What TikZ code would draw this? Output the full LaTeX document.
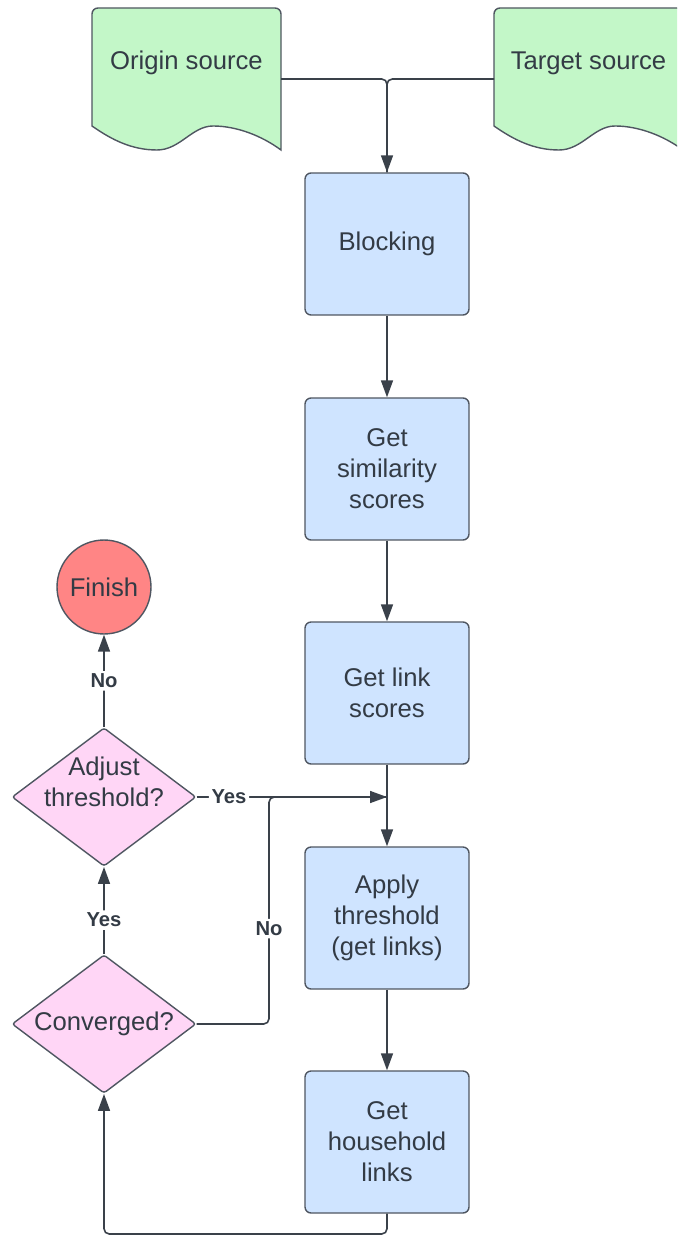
\documentclass[tikz,border=0pt]{standalone}
\usepackage{fontspec}
\setmainfont{Liberation Sans}
\usetikzlibrary{shapes.geometric, arrows.meta}
\definecolor{lineGray}{HTML}{3A414A}
\definecolor{borderGray}{HTML}{4F5661}
\definecolor{textGray}{HTML}{333B45}
\definecolor{docGreen}{HTML}{C3F7C8}
\definecolor{stepBlue}{HTML}{CFE4FF}
\definecolor{askPink}{HTML}{FFD6F6}
\definecolor{endRed}{HTML}{FF8585}
\begin{document}
\begin{tikzpicture}[x=0.02cm, y=-0.02cm,
    docStyle/.style={draw=borderGray, fill=docGreen, line width=0.8pt},
    textStyle/.style={text=textGray, align=center, font=\fontsize{14.6}{17.6}\selectfont},
    boxStyle/.style={textStyle, rectangle, draw=borderGray, fill=stepBlue, line width=0.8pt, rounded corners=3.4pt, minimum width=3.28cm, minimum height=2.84cm},
    decisionStyle/.style={textStyle, diamond, aspect=1.33, draw=borderGray, fill=askPink, line width=0.8pt, rounded corners=1.5pt, minimum width=3.68cm, minimum height=2.77cm, inner sep=0pt},
    endStyle/.style={textStyle, circle, draw=borderGray, fill=endRed, line width=0.8pt, minimum size=1.88cm},
    lineStyle/.style={draw=lineGray, line width=0.9pt, rounded corners=3pt},
    arrowStyle/.style={lineStyle, -{Triangle[length=0.34cm, width=0.24cm]}},
    labelStyle/.style={text=textGray, fill=white, inner sep=1.5pt, font=\fontsize{11.5}{13}\selectfont\bfseries}]
    \useasboundingbox (0,0) rectangle (677,1236);
    \clip (0,0) rectangle (677,1236);

    % sources
    \draw[docStyle, shift={(92,8)}] (189,60) [rounded corners=3.4pt] -- (189,0) -- (0,0) -- (0,60) [sharp corners] -- (0,118) .. controls (20,132) and (40,142) .. (65,142) .. controls (88,142) and (100,118) .. (121,118) .. controls (145,118) and (170,128) .. (189,142) -- cycle;
    \draw[docStyle, shift={(494,8)}] (189,60) [rounded corners=3.4pt] -- (189,0) -- (0,0) -- (0,60) [sharp corners] -- (0,118) .. controls (20,132) and (40,142) .. (65,142) .. controls (88,142) and (100,118) .. (121,118) .. controls (145,118) and (170,128) .. (189,142) -- cycle;
    \node[textStyle] (origin) at (186.5,63) {Origin source};
    \node[textStyle] (target) at (588.5,63) {Target source};
    \coordinate (origin_E) at (281,79);
    \coordinate (target_W) at (494,79);

    % steps
    \node[boxStyle] (blocking)   at (387, 244) {Blocking};
    \node[boxStyle] (simScores)  at (387, 469) {Get\\similarity\\scores};
    \node[boxStyle] (linkScores) at (387, 693) {Get link\\scores};
    \node[boxStyle] (applyThr)   at (387, 918) {Apply\\threshold\\(get links)};
    \node[boxStyle] (household)  at (387,1142) {Get\\household\\links};

    % decisions
    \node[endStyle]      (finish)    at (104, 587) {Finish};
    \node[decisionStyle] (adjust)    at (104, 797) {};
    \node[textStyle]     (adjust_T)  at (104, 782) {Adjust\\threshold?};
    \node[decisionStyle] (converged) at (104,1024) {Converged?};

    \coordinate (merge)      at (387, 797);
    \coordinate (noTurn)     at (269, 797);
    \coordinate (loopCorner) at (387,1234);

    \draw[arrowStyle] (origin_E) -| (blocking.north);
    \draw[lineStyle]  (target_W) -| (blocking.north);
    \draw[arrowStyle] (blocking.south) -- (simScores.north);
    \draw[arrowStyle] (simScores.south) -- (linkScores.north);
    \draw[arrowStyle] (linkScores.south) -- (applyThr.north);
    \draw[arrowStyle] (applyThr.south) -- (household.north);

    \draw[arrowStyle] (household.south) -- (loopCorner) -| (converged.south);
    \draw[lineStyle]  (converged.east) -| node[labelStyle, pos=0.71] (noConv) {No} (noTurn) -- (merge);
    \draw[arrowStyle] (adjust.east) -- node[labelStyle, pos=0.17] (yesAdjust) {Yes} (merge);
    \draw[arrowStyle] (converged.north) -- node[labelStyle, pos=0.39] (yesConv) {Yes} (adjust.south);
    \draw[arrowStyle] (adjust.north) -- node[labelStyle] (noAdjust) {No} (finish.south);
\end{tikzpicture}
\end{document}
